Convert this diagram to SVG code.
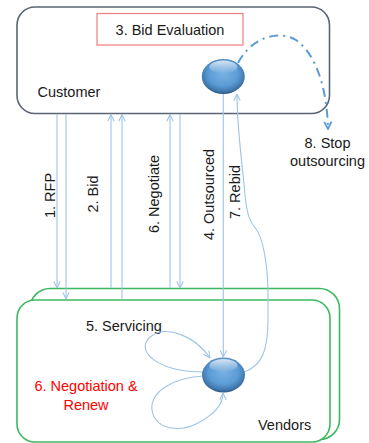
<svg xmlns="http://www.w3.org/2000/svg" width="369" height="443" viewBox="0 0 369 443">
<style>
text{font-family:"Liberation Sans","DejaVu Sans",sans-serif;font-size:14.5px;fill:#1a1a1a}
.red{fill:#ff0000}
.conn{fill:none;stroke:#9dc3e6;stroke-width:1.1}
.green{fill:#fff;stroke:#3cb85f;stroke-width:1.6}
.rot{text-anchor:middle;dominant-baseline:central}
</style>
<defs>
<marker id="arr" viewBox="0 0 10 10" refX="9.5" refY="5" markerUnits="userSpaceOnUse" markerWidth="8" markerHeight="8" orient="auto">
<path d="M1,1 L9.5,5 L1,9" fill="none" stroke="#9dc3e6" stroke-width="1.3"/>
</marker>
<marker id="arr2" viewBox="0 0 10 10" refX="9" refY="5" markerUnits="userSpaceOnUse" markerWidth="9" markerHeight="9" orient="auto">
<path d="M1,1 L9,5 L1,9" fill="none" stroke="#5b9bd5" stroke-width="2"/>
</marker>
<radialGradient id="sph" cx="50%" cy="42%" r="58%">
<stop offset="0" stop-color="#79b1e3"/>
<stop offset="0.6" stop-color="#5b9bd5"/>
<stop offset="0.88" stop-color="#3f77ad"/>
<stop offset="1" stop-color="#2b5580"/>
</radialGradient>
<linearGradient id="hl" x1="0" y1="0" x2="0" y2="1">
<stop offset="0" stop-color="#fff" stop-opacity="0.75"/>
<stop offset="1" stop-color="#fff" stop-opacity="0"/>
</linearGradient>
</defs>

<g id="customer">
<rect x="17" y="7" width="312.5" height="106.5" rx="18" fill="#fff" stroke="#5a6474" stroke-width="1.6"/>
<text x="37.5" y="97">Customer</text>
</g>
<g id="bid-evaluation">
<rect x="97" y="13.5" width="146" height="31.5" fill="#fff" stroke="#f07c7c" stroke-width="1.2"/>
<text x="170" y="34.5" text-anchor="middle">3. Bid Evaluation</text>
</g>
<g id="stop-outsourcing">
<text x="327.5" y="148" text-anchor="middle">8. Stop</text>
<text x="327.5" y="166" text-anchor="middle">outsourcing</text>
</g>

<g id="vendors">
<rect class="green" x="30" y="288.5" width="309.5" height="151" rx="20"/>
<rect class="green" x="17" y="300" width="313" height="142" rx="18"/>
<text x="258" y="430">Vendors</text>
<text x="86" y="331">5. Servicing</text>
<text class="red" x="86" y="391" text-anchor="middle">6. Negotiation &amp;</text>
<text class="red" x="86" y="410" text-anchor="middle">Renew</text>
</g>

<g id="connectors">
<line class="conn" x1="57" y1="114" x2="57" y2="288" marker-end="url(#arr)"/>
<line class="conn" x1="66" y1="114" x2="66" y2="299" marker-end="url(#arr)"/>
<line class="conn" x1="111" y1="288" x2="111" y2="114.5" marker-end="url(#arr)"/>
<line class="conn" x1="122" y1="300" x2="122" y2="114.5" marker-end="url(#arr)"/>
<line class="conn" x1="170" y1="288" x2="170" y2="114.5" marker-end="url(#arr)"/>
<line class="conn" x1="180" y1="114" x2="180" y2="288" marker-end="url(#arr)"/>
<line class="conn" x1="223.3" y1="93" x2="223.3" y2="357" marker-end="url(#arr)"/>
<path class="conn" d="M244,372 C262,366 268,350 268,320 L268,295 C268,262 262,236 256,229 C250,222 247,215 245,195 C243,170 237,130 237,94" marker-end="url(#arr)"/>
<path class="conn" d="M203,372 C160,372 134,352 150,337 C166,324 195,336 210,358" marker-end="url(#arr)"/>
<path class="conn" d="M203,376 C172,378 150,392 152,410 C155,430 180,432 196,424 C212,416 223,405 223,393" marker-end="url(#arr)"/>
<path d="M238,63 C252,36 280,30 296,40 C316,54 327,88 328,129" fill="none" stroke="#5b9bd5" stroke-width="2" stroke-dasharray="9,5,2,5" marker-end="url(#arr2)"/>
</g>

<g id="labels">
<text class="rot" transform="translate(49.5,195.5) rotate(-90)">1. RFP</text>
<text class="rot" transform="translate(93,194) rotate(-90)">2. Bid</text>
<text class="rot" transform="translate(153.5,194) rotate(-90)">6. Negotiate</text>
<text class="rot" transform="translate(209,194.5) rotate(-90)">4. Outsourced</text>
<text class="rot" transform="translate(235,192) rotate(-90)">7. Rebid</text>
</g>

<g id="customer-node">
<ellipse cx="223.3" cy="76.5" rx="21.5" ry="17.5" fill="url(#sph)"/>
<ellipse cx="223.3" cy="67" rx="14" ry="6.5" fill="url(#hl)"/>
</g>
<g id="vendor-node">
<ellipse cx="223.5" cy="375" rx="21.5" ry="17.5" fill="url(#sph)"/>
<ellipse cx="223.5" cy="365.5" rx="14" ry="6.5" fill="url(#hl)"/>
</g>
</svg>
